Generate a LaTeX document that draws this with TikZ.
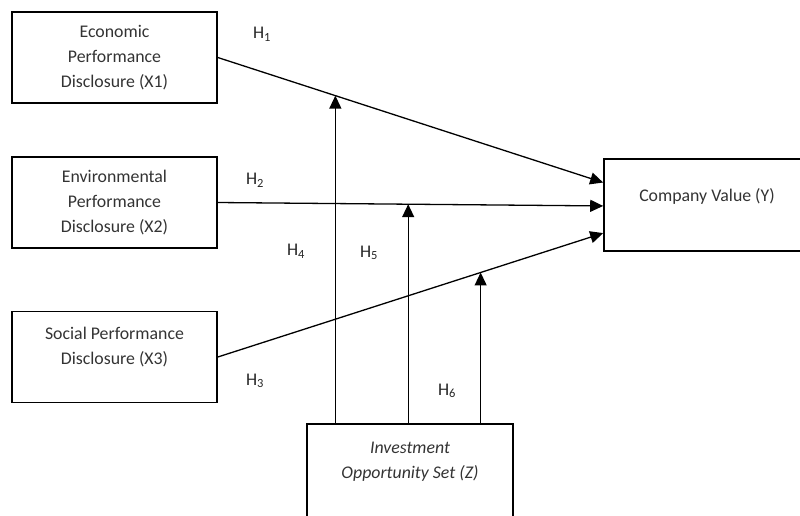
\documentclass[tikz,border=0pt]{standalone}
\usepackage{fontspec}
\setmainfont{Carlito}
\usetikzlibrary{arrows.meta,calc}

\begin{document}
\begin{tikzpicture}[x=1pt, y=-1pt,
  box/.style={draw, line width=1.6pt, minimum width=205pt, minimum height=91pt,
    align=center, text=black!80, font=\fontsize{17.8}{25}\selectfont},
  raised/.style={text depth=22pt},
  hyp/.style={text=black!85, font=\fontsize{17.8}{20}\selectfont},
  path/.style={line width=1.3pt, -{Triangle[length=13pt,width=12pt]}}]
  \useasboundingbox (0,0) rectangle (800,515);
  % Disclosure variables (X)
  \node[box] (x1) at (114.5,57.5) {Economic\\Performance\\Disclosure (X1)};
  \node[box] (x2) at (114.5,202.5) {Environmental\\Performance\\Disclosure (X2)};
  \node[box, raised] (x3) at (114.5,357) {Social Performance\\Disclosure (X3)};
  % Company value (Y) and moderator (Z)
  \node[box, raised, minimum width=206pt, minimum height=92pt, text depth=20pt] (y) at (707,205) {Company Value (Y)};
  \node[box, raised, minimum width=206pt, minimum height=95pt,
    font=\fontsize{17.8}{25}\selectfont\itshape] (z) at (410,471.5) {Investment\\Opportunity Set (Z)};
  % Direct effects
  \coordinate (y1) at ($(y.north west)!0.26!(y.south west)$);
  \coordinate (y2) at ($(y.north west)!0.51!(y.south west)$);
  \coordinate (y3) at ($(y.north west)!0.80!(y.south west)$);
  \draw[path] (x1.east) -- (y1);
  \draw[path] (x2.east) -- (y2);
  \draw[path] (x3.east) -- (y3);
  % Moderating effects
  \foreach \i/\t in {1/0.305, 2/0.494, 3/0.682} {
    \coordinate (m\i) at ($(x\i.east)!\t!(y\i)$);
    \draw[path] (m\i |- z.north) -- (m\i);
  }
  % Hypotheses
  \node[hyp] (h1) at (262,34) {H\textsubscript{1}};
  \node[hyp] (h2) at (255,180) {H\textsubscript{2}};
  \node[hyp] (h3) at (255,381) {H\textsubscript{3}};
  \node[hyp] (h4) at (296,251) {H\textsubscript{4}};
  \node[hyp] (h5) at (369,253) {H\textsubscript{5}};
  \node[hyp] (h6) at (447,391) {H\textsubscript{6}};
\end{tikzpicture}
\end{document}
